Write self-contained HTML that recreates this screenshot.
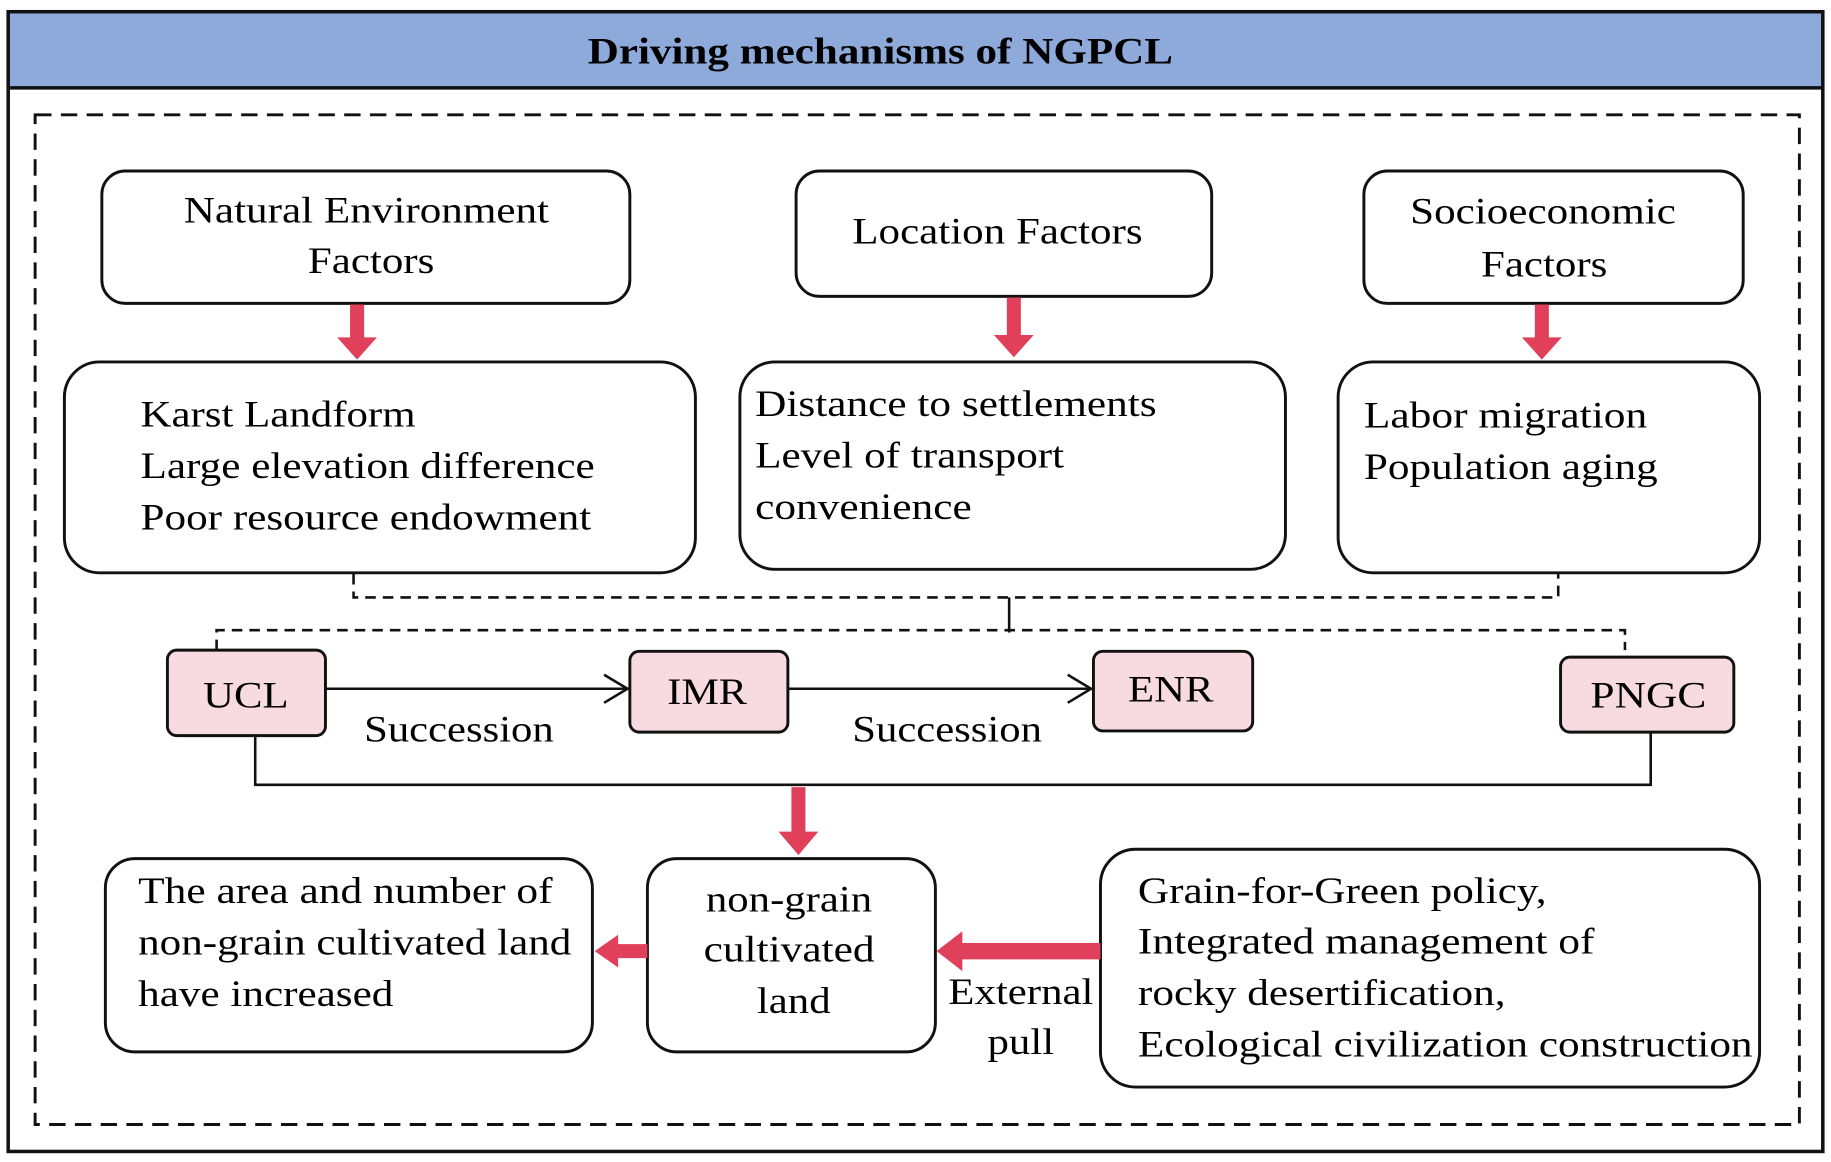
<!DOCTYPE html>
<html><head><meta charset="utf-8"><style>html,body{margin:0;padding:0;background:#fff}svg{display:block}</style></head>
<body>
<svg width="1831" height="1162" viewBox="0 0 1564 992" preserveAspectRatio="none" xmlns="http://www.w3.org/2000/svg" font-family="Liberation Serif, serif" font-size="32" fill="#000">
<rect x="0" y="0" width="1564" height="992" fill="#fff"/>
<rect x="7" y="10" width="1550" height="65" fill="#8eaadb"/>
<rect x="7" y="10" width="1550" height="973" fill="none" stroke="#111" stroke-width="3"/>
<line x1="7" y1="75" x2="1557" y2="75" stroke="#111" stroke-width="3"/>
<text x="752" y="54" text-anchor="middle" font-weight="bold" font-size="32" textLength="500" lengthAdjust="spacingAndGlyphs">Driving mechanisms of NGPCL</text>
<rect x="30" y="98" width="1507" height="862" fill="none" stroke="#111" stroke-width="2.5" stroke-dasharray="14,8"/>
<g fill="#fff" stroke="#111" stroke-width="2.5">
<rect x="87" y="146" width="451" height="113" rx="20"/>
<rect x="680" y="146" width="355" height="107" rx="20"/>
<rect x="1165" y="146" width="324" height="113" rx="20"/>
<rect x="55" y="309" width="539" height="180" rx="30"/>
<rect x="632" y="309" width="466" height="177" rx="30"/>
<rect x="1143" y="309" width="360" height="180" rx="30"/>
<rect x="90" y="733" width="416" height="165" rx="25"/>
<rect x="553" y="733" width="246" height="165" rx="25"/>
<rect x="940" y="725" width="563" height="203" rx="30"/>
</g>
<g fill="#f8dbe0" stroke="#111" stroke-width="2.5">
<rect x="143" y="555" width="135" height="73" rx="8"/>
<rect x="538" y="556" width="135" height="69" rx="8"/>
<rect x="934" y="556" width="136" height="68" rx="8"/>
<rect x="1333" y="561" width="148" height="64" rx="8"/>
</g>
<g fill="#e0405a">
<polygon points="299,260 311,260 311,288 322,288 305,307 288,288 299,288"/>
<polygon points="860,254 872,254 872,286 883,286 866,305 849,286 860,286"/>
<polygon points="1311,260 1323,260 1323,288 1334,288 1317,307 1300,288 1311,288"/>
<polygon points="676,672 688,672 688,710 699,710 682,730 665,710 676,710"/>
<polygon points="553,806 553,818 528,818 528,826 508,812 528,798 528,806"/>
<polygon points="940,805 940,819 822,819 822,829 800,812 822,795 822,805"/>
</g>
<g fill="none" stroke="#111" stroke-width="2.2" stroke-dasharray="9,6">
<polyline points="302,490 302,510 1331,510 1331,490"/>
<polyline points="185,555 185,538 1388,538 1388,555"/>
</g>
<line x1="862" y1="510" x2="862" y2="540" stroke="#111" stroke-width="2.2"/>
<g fill="none" stroke="#111" stroke-width="2.2">
<line x1="278" y1="588" x2="536" y2="588"/><polyline points="516,576 536,588 516,600"/>
<line x1="673" y1="588" x2="932" y2="588"/><polyline points="912,576 932,588 912,600"/>
<polyline points="218,628 218,670 1410,670 1410,625"/>
</g>
<g text-anchor="middle" lengthAdjust="spacingAndGlyphs">
<text x="313" y="190" textLength="312" lengthAdjust="spacingAndGlyphs">Natural Environment</text>
<text x="317" y="233" textLength="108" lengthAdjust="spacingAndGlyphs">Factors</text>
<text x="852" y="208" textLength="248" lengthAdjust="spacingAndGlyphs">Location Factors</text>
<text x="1318" y="191" textLength="227" lengthAdjust="spacingAndGlyphs">Socioeconomic</text>
<text x="1319" y="236" textLength="108" lengthAdjust="spacingAndGlyphs">Factors</text>
<text x="210" y="604" textLength="73" lengthAdjust="spacingAndGlyphs">UCL</text>
<text x="604" y="601" textLength="68" lengthAdjust="spacingAndGlyphs">IMR</text>
<text x="1000" y="599" textLength="73" lengthAdjust="spacingAndGlyphs">ENR</text>
<text x="1408" y="604" textLength="99" lengthAdjust="spacingAndGlyphs">PNGC</text>
<text x="392" y="633" textLength="162" lengthAdjust="spacingAndGlyphs">Succession</text>
<text x="809" y="633" textLength="162" lengthAdjust="spacingAndGlyphs">Succession</text>
<text x="674" y="778" textLength="142" lengthAdjust="spacingAndGlyphs">non-grain</text>
<text x="674" y="821" textLength="146" lengthAdjust="spacingAndGlyphs">cultivated</text>
<text x="678" y="865" textLength="63" lengthAdjust="spacingAndGlyphs">land</text>
<text x="872" y="857" textLength="124" lengthAdjust="spacingAndGlyphs">External</text>
<text x="872" y="900" textLength="57" lengthAdjust="spacingAndGlyphs">pull</text>
</g>
<text x="120" y="364" textLength="235" lengthAdjust="spacingAndGlyphs">Karst Landform</text>
<text x="120" y="408" textLength="388" lengthAdjust="spacingAndGlyphs">Large elevation difference</text>
<text x="120" y="452" textLength="385" lengthAdjust="spacingAndGlyphs">Poor resource endowment</text>
<text x="645" y="355" textLength="343" lengthAdjust="spacingAndGlyphs">Distance to settlements</text>
<text x="645" y="399" textLength="264" lengthAdjust="spacingAndGlyphs">Level of transport</text>
<text x="645" y="443" textLength="185" lengthAdjust="spacingAndGlyphs">convenience</text>
<text x="1165" y="365" textLength="242" lengthAdjust="spacingAndGlyphs">Labor migration</text>
<text x="1165" y="409" textLength="251" lengthAdjust="spacingAndGlyphs">Population aging</text>
<text x="118" y="771" textLength="354" lengthAdjust="spacingAndGlyphs">The area and number of</text>
<text x="118" y="815" textLength="370" lengthAdjust="spacingAndGlyphs">non-grain cultivated land</text>
<text x="118" y="859" textLength="218" lengthAdjust="spacingAndGlyphs">have increased</text>
<text x="972" y="771" textLength="349" lengthAdjust="spacingAndGlyphs">Grain-for-Green policy,</text>
<text x="972" y="814" textLength="390" lengthAdjust="spacingAndGlyphs">Integrated management of</text>
<text x="972" y="858" textLength="314" lengthAdjust="spacingAndGlyphs">rocky desertification,</text>
<text x="972" y="902" textLength="525" lengthAdjust="spacingAndGlyphs">Ecological civilization construction</text>
</svg>
</body></html>
